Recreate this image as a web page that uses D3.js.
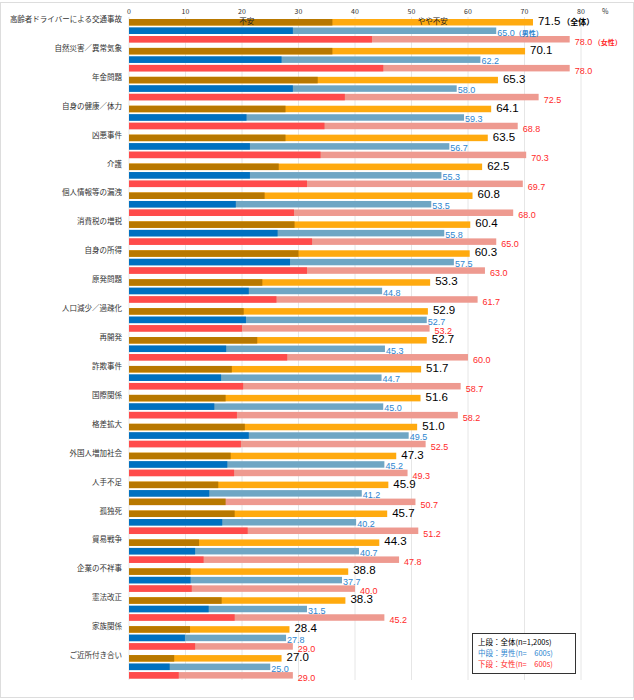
<!DOCTYPE html>
<html><head><meta charset="utf-8">
<script src="https://cdn.jsdelivr.net/npm/d3@7"></script>
<style>body{margin:0;background:#fff;font-family:"Noto Sans CJK JP",sans-serif}</style>
</head><body><svg id="c" width="634" height="700"></svg>
<script>
const categories=["高齢者ドライバーによる交通事故","自然災害／異常気象","年金問題","自身の健康／体力","凶悪事件","介護","個人情報等の漏洩","消費税の増税","自身の所得","原発問題","人口減少／過疎化","再開発","詐欺事件","国際関係","格差拡大","外国人増加社会","人手不足","孤独死","貿易戦争","企業の不祥事","憲法改正","家族関係","ご近所付き合い"];
const totalAll=[71.5,70.1,65.3,64.1,63.5,62.5,60.8,60.4,60.3,53.3,52.9,52.7,51.7,51.6,51.0,47.3,45.9,45.7,44.3,38.8,38.3,28.4,27.0];
const totalFuan=[36.0,36.0,33.4,27.7,27.7,26.5,24.0,29.3,30.0,23.6,20.3,22.7,18.2,17.1,20.5,18.0,15.8,18.7,12.4,10.9,16.4,10.8,8.0];
const maleAll=[65.0,62.2,58.0,59.3,56.7,55.3,53.5,55.8,57.5,44.8,52.7,45.3,44.7,45.0,49.5,45.2,41.2,40.2,40.7,37.7,31.5,27.8,25.0];
const maleFuan=[29.0,27.0,29.0,20.8,21.4,21.4,18.9,26.3,28.5,21.2,20.7,17.2,16.3,15.1,21.2,17.4,14.2,16.5,11.7,10.9,14.1,9.9,7.2];
const femaleAll=[78.0,78.0,72.5,68.8,70.3,69.7,68.0,65.0,63.0,61.7,53.2,60.0,58.7,58.2,52.5,49.3,50.7,51.2,47.8,40.0,45.2,29.0,29.0];
const femaleFuan=[43.0,45.0,38.2,34.6,33.9,31.5,29.2,32.4,31.5,26.1,20.0,28.0,20.2,19.1,19.8,18.6,17.1,21.0,13.2,11.1,18.7,11.7,8.8];
const ticks=[0,10,20,30,40,50,60,70,80];

const svg=d3.select("#c");
svg.append("rect").attr("x",0.5).attr("y",2.5).attr("width",633).attr("height",695).attr("fill","none").attr("stroke","#ddd");
const x=d3.scaleLinear().domain([0,80]).range([129,581]);
const y=d3.scaleBand().domain(categories).range([12,677]).paddingInner(0);
svg.append("g").selectAll("line").data(ticks).join("line")
 .attr("x1",d=>x(d)).attr("x2",d=>x(d)).attr("y1",17).attr("y2",680).attr("stroke","#e6e6e6");
svg.append("g").selectAll("text").data(ticks).join("text")
 .attr("x",d=>x(d)).attr("y",14).attr("text-anchor","middle").attr("font-size",7).attr("fill","#333").text(d=>d);
svg.append("text").attr("x",602).attr("y",14).attr("font-size",7).attr("fill","#333").text("%");

const series=[
 {all:totalAll,fuan:totalFuan,dark:"#b87800",light:"#ffaa0f",off:7,lc:"#000"},
 {all:maleAll,fuan:maleFuan,dark:"#0070c0",light:"#6fa6c4",off:15.5,lc:"#2e86d0"},
 {all:femaleAll,fuan:femaleFuan,dark:"#ff4b4b",light:"#ee9a90",off:24,lc:"#ff2a2a"}];
const bh=6.5;
categories.forEach((c,i)=>{
 const y0=y(c);
 svg.append("text").attr("x",122).attr("y",y0+y0*0+10).attr("text-anchor","end").attr("font-size",7.5).attr("fill","#333").text(c);
 series.forEach((s,k)=>{
  const yy=y0+s.off;
  svg.append("rect").attr("x",x(0)).attr("y",yy).attr("width",x(s.all[i])-x(0)).attr("height",bh).attr("fill",s.light);
  const dk=(k==2&&c==="人手不足")?"#b87800":s.dark;
  svg.append("rect").attr("x",x(0)).attr("y",yy).attr("width",x(s.fuan[i])-x(0)).attr("height",bh).attr("fill",dk);
 });
 const t=svg.append("text").attr("x",x(totalAll[i])+5).attr("y",y0+13).attr("font-size",11.5).attr("fill","#000").attr("font-family","Liberation Sans Narrow,Liberation Sans,sans-serif").text(totalAll[i].toFixed(1));
 const m=svg.append("text").attr("x",x(maleAll[i])+1).attr("y",y0+23.5).attr("font-size",9).attr("fill","#2e86d0").attr("font-family","Liberation Sans Narrow,Liberation Sans,sans-serif").text(maleAll[i].toFixed(1));
 const f=svg.append("text").attr("x",x(femaleAll[i])+5).attr("y",y0+33).attr("font-size",9).attr("fill","#ff2a2a").attr("font-family","Liberation Sans Narrow,Liberation Sans,sans-serif").text(femaleAll[i].toFixed(1));
 if(i===0){
  t.append("tspan").attr("font-size",8).attr("font-weight","bold").attr("font-family","Noto Sans CJK JP").text(" （全体）");
  m.append("tspan").attr("font-size",7).attr("font-weight","bold").attr("font-family","Noto Sans CJK JP").text("（男性）");
  f.append("tspan").attr("font-size",7).attr("font-weight","bold").attr("font-family","Noto Sans CJK JP").text(" （女性）");
 }
});
const y1=y(categories[0]);
svg.append("text").attr("x",(x(0)+x(totalFuan[0]))/2+16).attr("y",y1+12).attr("text-anchor","middle").attr("font-size",7.5).attr("fill","#222").text("不安");
svg.append("text").attr("x",(x(totalFuan[0])+x(totalAll[0]))/2).attr("y",y1+12).attr("text-anchor","middle").attr("font-size",7.5).attr("fill","#222").text("やや不安");

const lg=svg.append("g");
lg.append("rect").attr("x",472.5).attr("y",633.5).attr("width",103).attr("height",40).attr("fill","#fff").attr("stroke","#333");
[["上段：全体(n=1,200s)","#000"],["中段：男性(n=　600s)","#2e86d0"],["下段：女性(n=　600s)","#ff2a2a"]].forEach((d,i)=>{
 lg.append("text").attr("x",478).attr("y",645+i*11).attr("font-size",7.5).attr("fill",d[1]).text(d[0]);
});
</script></body></html>
